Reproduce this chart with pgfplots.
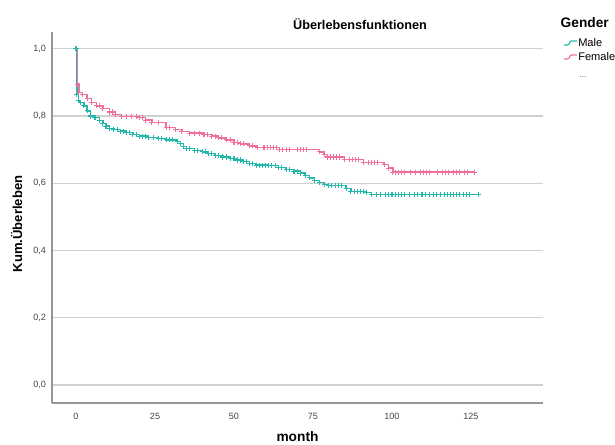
\documentclass[border=0pt]{standalone}
\usepackage{fontspec}
\setmainfont{Liberation Sans}
\usepackage{pgfplots}
\pgfplotsset{compat=1.18}
\definecolor{male}{RGB}{36,184,170}
\definecolor{female}{RGB}{238,112,155}
\definecolor{gridc}{RGB}{208,208,208}
\definecolor{axc}{RGB}{150,150,150}
\definecolor{tickc}{RGB}{70,70,70}

\pgfplotstableread{
t S
0 1.000
0.3 0.865
0.7 0.845
1.5 0.840
2.5 0.830
3.5 0.815
4.5 0.800
6 0.795
7.5 0.787
8.5 0.778
9.5 0.770
10.5 0.763
12 0.759
13 0.759
14 0.755
15 0.755
16 0.750
17 0.750
18 0.745
19 0.745
20 0.740
21 0.740
22 0.740
23 0.737
24.5 0.737
26 0.733
27 0.733
28.5 0.729
29.5 0.729
30.5 0.729
32 0.725
33 0.718
34 0.710
35 0.703
36 0.703
37.5 0.698
38.5 0.698
40 0.693
41 0.693
42 0.688
43 0.688
44 0.682
45 0.682
46.5 0.678
47.5 0.678
49 0.673
50 0.673
51 0.669
52 0.669
53 0.665
54 0.665
55 0.659
56 0.659
57 0.654
58 0.654
59 0.654
60 0.654
61 0.652
62 0.652
63 0.652
64 0.647
65 0.647
66.5 0.641
67.5 0.641
69 0.636
70 0.636
71 0.630
72.5 0.623
74 0.616
75.5 0.609
77 0.603
78.5 0.597
80 0.594
81 0.594
82 0.594
83 0.594
84 0.594
85.5 0.585
87 0.576
88 0.576
89 0.576
90 0.576
91 0.576
92 0.572
93.5 0.566
95 0.566
96.5 0.566
98 0.566
99 0.566
100 0.566
101 0.566
102 0.566
103 0.566
104 0.566
105.5 0.566
107 0.566
108 0.566
109.5 0.566
110.5 0.566
112 0.566
113 0.566
114 0.566
115.5 0.566
116.5 0.566
117.5 0.566
118.5 0.566
119.5 0.566
120.5 0.566
121.5 0.566
122.5 0.566
123.5 0.566
124.5 0.566
127.3 0.566
}\maledata

\pgfplotstableread{
t S
0 1.000
0.4 0.895
0.9 0.870
2 0.863
3.5 0.852
5 0.840
6.5 0.830
7.5 0.830
8.5 0.822
10.5 0.812
11.5 0.812
12.5 0.805
14.5 0.799
16 0.799
17.5 0.799
19 0.799
20 0.795
21 0.795
22 0.788
24 0.781
26 0.781
28.5 0.766
29.5 0.766
31.5 0.760
33.5 0.754
36 0.749
37.5 0.749
39 0.749
40.5 0.745
41.5 0.745
43 0.740
44 0.740
45 0.735
46 0.735
47.5 0.729
49 0.729
50 0.722
51 0.722
52 0.717
53 0.717
55 0.711
56 0.711
57.5 0.707
59.5 0.707
60.5 0.707
61.5 0.707
62.5 0.707
63.5 0.707
64.5 0.700
65.5 0.700
66.5 0.700
67.5 0.700
70 0.700
71 0.700
72 0.700
73 0.700
77 0.693
78.5 0.686
79.5 0.678
80.5 0.678
81.5 0.678
82.5 0.678
83.5 0.678
85 0.670
86.5 0.670
87.5 0.670
88.5 0.670
89.5 0.670
91 0.662
92.5 0.662
93.5 0.662
94.5 0.662
95.5 0.662
97.5 0.655
99 0.645
100.3 0.633
101 0.633
102 0.633
103 0.633
104 0.633
106 0.633
107.5 0.633
109 0.633
110 0.633
111 0.633
112 0.633
114.5 0.633
116 0.633
117 0.633
118 0.633
119.5 0.633
120.5 0.633
121.5 0.633
123 0.633
124 0.633
126 0.633
}\femaledata

\begin{document}
\begin{tikzpicture}[x=0.75pt,y=0.75pt]
\useasboundingbox (0,0) rectangle (615,445);
\begin{axis}[
  at={(39pt,31.5pt)}, anchor=south west,
  scale only axis, width=368.25pt, height=278.25pt,
  xmin=-7.6, xmax=147.8, ymin=-0.054, ymax=1.05,
  axis lines=left,
  axis line style={-, color=axc, line width=1.2pt},
  major tick length=0pt,
  xtick={0,25,50,75,100,125},
  ytick={0,0.2,0.4,0.6,0.8,1.0},
  ymajorgrids,
  major grid style={gridc, line width=1pt},
  /pgf/number format/assume math mode=true,
  yticklabel style={/pgf/number format/fixed, /pgf/number format/fixed zerofill, /pgf/number format/precision=1, /pgf/number format/use comma, xshift=-1pt},
  xticklabel style={/pgf/number format/fixed, /pgf/number format/precision=0, yshift=-4pt},
  tick label style={font=\fontsize{6.8}{7}\selectfont, color=tickc},
  clip=false,
]
\addplot[const plot, color=male, line width=1pt, mark=+, mark size=1.9pt, mark options={line width=0.8pt}] table[x=t,y=S] {\maledata};
\addplot[const plot, color=female, line width=1pt, mark=+, mark size=1.9pt, mark repeat=1, mark phase=2, mark options={line width=0.8pt}] table[x=t,y=S] {\femaledata};
\end{axis}
% titles
\node[font=\fontsize{9.5}{11}\selectfont\bfseries] at (360,421) {Überlebensfunktionen};
\node[font=\fontsize{10.3}{12}\selectfont\bfseries] at (297.5,8) {month};
\node[font=\fontsize{9.8}{12}\selectfont\bfseries, rotate=90] at (16.5,221) {Kum.Überleben};
% legend
\node[font=\fontsize{10.3}{12}\selectfont\bfseries, anchor=west] at (556,422) {Gender};
\draw[male, line width=0.9pt, rounded corners=1pt] (564,400) -- (569,400) -- (570,404) -- (577,404);
\node[font=\fontsize{8.3}{10}\selectfont, anchor=west, inner sep=0pt] at (578,402) {Male};
\draw[female, line width=0.9pt, rounded corners=1pt] (564,386) -- (569,386) -- (570,390) -- (577,390);
\node[font=\fontsize{8.3}{10}\selectfont, anchor=west, inner sep=0pt] at (578,388) {Female};
\node[font=\fontsize{6}{7}\selectfont, color=tickc] at (583,368) {...};
\end{tikzpicture}
\end{document}
